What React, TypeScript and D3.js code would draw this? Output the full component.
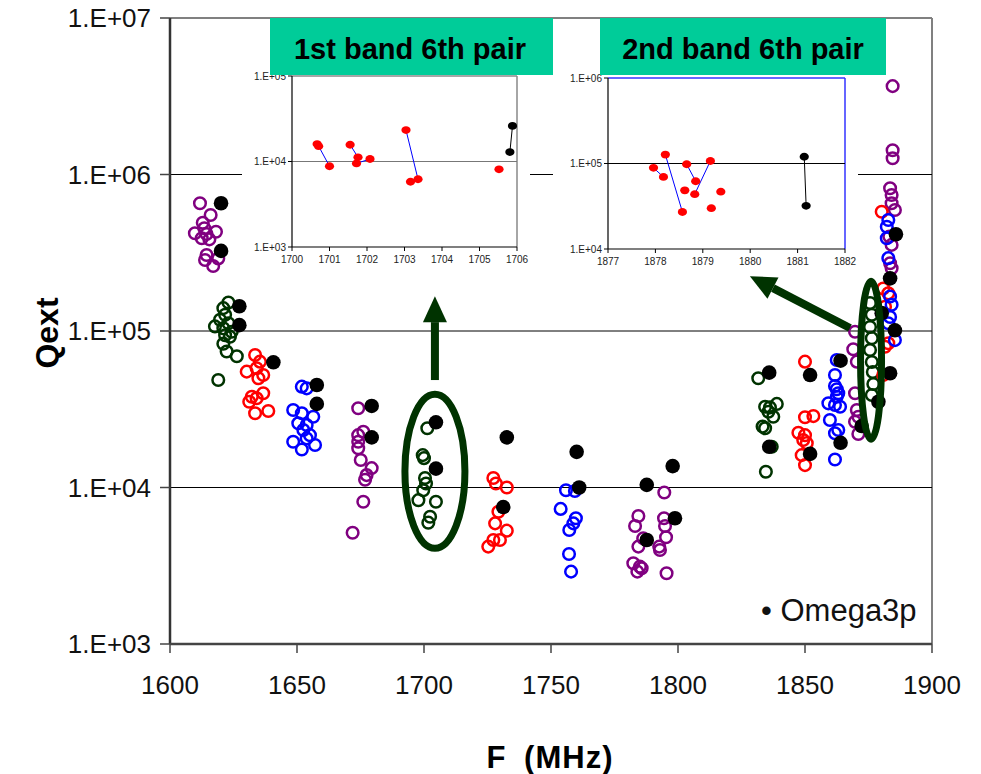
import React from 'react';
import * as d3 from 'd3';

// main chart series: [F (MHz), Qext]
const purpleQ: [number, number][] = [
  [1611.8, 6.55e5], [1616.0, 5.51e5], [1612.9, 4.92e5], [1613.5, 4.53e5], [1618.1, 4.31e5], [1609.8, 4.21e5],
  [1614.4, 4.17e5], [1612.5, 3.91e5], [1615.5, 3.85e5], [1614.4, 3.06e5], [1619.0, 2.91e5], [1613.8, 2.84e5], [1617.0, 2.6e5],
  [1674.1, 3.21e4], [1676.1, 2.27e4], [1674.1, 2.16e4], [1674.1, 1.96e4], [1674.1, 1.78e4], [1675.1, 1.5e4],
  [1679.4, 1.33e4], [1677.4, 1.2e4], [1676.8, 1.12e4], [1676.1, 8.1e3], [1671.9, 5.14e3],
  [1794.6, 9.3e3], [1784.4, 6.58e3], [1783.1, 5.67e3], [1794.5, 6.36e3], [1794.9, 5.67e3], [1786.3, 4.73e3],
  [1784.4, 4.19e3], [1795.3, 4.81e3], [1792.6, 4.19e3], [1792.9, 3.99e3], [1782.4, 3.28e3], [1785.0, 3.12e3],
  [1785.7, 3.05e3], [1784.0, 2.9e3], [1795.5, 2.83e3],
  [1869.7, 9.9e4], [1869.0, 7.64e4], [1870.4, 6.37e4], [1869.7, 4.0e4], [1870.4, 3.13e4], [1871.0, 2.83e4],
  [1869.7, 2.63e4], [1871.0, 2.2e4],
  [1884.5, 3.67e6], [1884.5, 1.43e6], [1884.5, 1.27e6], [1883.5, 8.17e5], [1884.1, 7.4e5], [1884.1, 6.55e5],
  [1885.4, 5.93e5], [1883.2, 4.01e5], [1884.1, 3.55e5], [1883.5, 2.71e5], [1884.1, 2.52e5],
];

const greenQ: [number, number][] = [
  [1623.0, 1.52e5], [1621.0, 1.4e5], [1621.7, 1.27e5], [1619.7, 1.18e5], [1623.0, 1.12e5], [1617.7, 1.07e5],
  [1621.0, 1.04e5], [1624.3, 9.9e4], [1621.7, 9.4e4], [1623.6, 9.2e4], [1621.0, 8.3e4], [1622.3, 7.4e4],
  [1626.3, 6.9e4], [1619.0, 4.86e4],
  [1701.3, 2.39e4], [1699.5, 1.61e4], [1700.0, 1.54e4], [1700.4, 1.15e4], [1700.8, 1.06e4], [1699.7, 9.6e3],
  [1697.8, 8.3e3], [1704.7, 8.1e3], [1702.4, 6.5e3], [1701.7, 5.96e3],
  [1831.6, 4.99e4], [1834.3, 3.28e4], [1836.2, 3.25e4], [1838.9, 3.42e4], [1835.6, 3.05e4], [1837.5, 2.83e4],
  [1833.3, 2.45e4], [1834.3, 2.39e4], [1836.9, 1.82e4], [1834.6, 1.26e4],
  [1875.6, 1.51e5], [1876.3, 1.27e5], [1875.6, 1.06e5], [1876.3, 9.0e4], [1875.6, 7.56e4], [1876.3, 6.34e4],
  [1876.7, 5.47e4], [1876.9, 4.58e4], [1876.3, 3.9e4],
];

const redQ: [number, number][] = [
  [1633.5, 7.03e4], [1635.4, 6.37e4], [1630.2, 5.5e4], [1634.1, 5.78e4], [1636.7, 5.23e4], [1634.8, 4.99e4],
  [1632.2, 3.8e4], [1636.7, 4.0e4], [1634.1, 3.72e4], [1631.2, 3.53e4], [1633.5, 2.98e4], [1638.7, 3.08e4],
  [1727.3, 1.15e4], [1728.3, 1.06e4], [1732.6, 1.0e4], [1729.3, 7.0e3], [1728.0, 5.9e3], [1732.6, 5.3e3],
  [1727.3, 4.62e3], [1729.9, 4.62e3], [1725.3, 4.19e3],
  [1850.0, 6.37e4], [1850.0, 2.81e4], [1853.3, 2.86e4], [1847.4, 2.24e4], [1850.0, 2.16e4], [1849.3, 2.01e4],
  [1850.7, 1.92e4], [1848.7, 1.61e4], [1850.0, 1.39e4],
  [1880.2, 5.78e5], [1880.8, 1.87e5], [1882.8, 1.74e5], [1881.5, 1.43e5], [1882.8, 8.35e4], [1881.5, 7.94e4],
  [1880.8, 5.23e4],
];

const blueQ: [number, number][] = [
  [1651.9, 4.41e4], [1653.8, 4.3e4], [1648.5, 3.13e4], [1651.9, 2.98e4], [1656.4, 2.83e4], [1650.5, 2.57e4],
  [1653.8, 2.51e4], [1652.5, 2.33e4], [1655.1, 2.16e4], [1648.5, 1.96e4], [1653.8, 2.06e4], [1657.1, 1.87e4],
  [1651.9, 1.75e4],
  [1755.9, 9.6e3], [1759.4, 9.5e3], [1753.8, 7.3e3], [1759.8, 6.36e3], [1758.8, 5.9e3], [1757.2, 5.35e3],
  [1757.1, 3.76e3], [1757.9, 2.9e3],
  [1862.5, 6.53e4], [1861.8, 5.23e4], [1861.8, 4.45e4], [1862.5, 4.24e4], [1863.1, 4.0e4], [1862.5, 3.8e4],
  [1859.2, 3.45e4], [1861.8, 3.37e4], [1863.8, 3.28e4], [1859.8, 2.7e4], [1863.1, 2.33e4], [1861.8, 2.22e4],
  [1861.8, 1.51e4],
  [1882.8, 5.12e5], [1882.2, 4.64e5], [1882.2, 3.91e5], [1882.8, 2.92e5], [1883.5, 1.66e5], [1884.1, 1.47e5],
  [1883.5, 1.23e5], [1882.8, 1.12e5], [1885.4, 8.75e4],
];

const omega3p: [number, number][] = [
  [1620.1, 6.55e5], [1620.1, 3.25e5], [1627.3, 1.44e5], [1627.3, 1.09e5], [1640.7, 6.31e4], [1657.8, 4.52e4],
  [1657.8, 3.42e4], [1679.4, 3.32e4], [1679.4, 2.09e4], [1704.7, 2.61e4], [1704.7, 1.32e4], [1732.6, 2.09e4],
  [1731.2, 7.5e3], [1760.1, 1.69e4], [1761.1, 1.0e4], [1787.7, 1.04e4], [1787.7, 4.62e3], [1797.9, 1.37e4],
  [1798.8, 6.36e3], [1835.9, 5.42e4], [1835.9, 1.82e4], [1852.0, 5.23e4], [1852.0, 1.64e4], [1864.0, 6.46e4],
  [1864.0, 1.93e4], [1872.3, 2.47e4], [1880.2, 1.3e5], [1878.9, 3.53e4], [1885.8, 4.15e5], [1883.5, 2.17e5],
  [1885.4, 1.01e5], [1883.5, 5.37e4],
];

// inset 1: 1st band 6th pair
const band1Red: [number, number][] = [
  [1700.67, 1.6e4], [1700.71, 1.51e4], [1701.0, 8.8e3], [1701.55, 1.57e4], [1701.76, 1.12e4], [1701.72, 9.5e3],
  [1702.08, 1.07e4], [1703.04, 2.33e4], [1703.16, 5.8e3], [1703.36, 6.2e3], [1705.52, 8.1e3],
];
const band1Links: [number, number][] = [[1, 2], [3, 4], [5, 6], [7, 9]];
const band1Black: [number, number][] = [[1705.81, 1.29e4], [1705.88, 2.61e4]];

// inset 2: 2nd band 6th pair
const band2Red: [number, number][] = [
  [1877.96, 8.9e4], [1878.17, 6.96e4], [1878.21, 1.27e5], [1878.57, 2.71e4], [1878.66, 9.8e4], [1878.85, 6.2e4],
  [1878.62, 4.85e4], [1878.83, 4.38e4], [1879.16, 1.07e5], [1879.18, 3.0e4], [1879.38, 4.68e4],
];
const band2Links: [number, number][] = [[0, 1], [2, 3], [4, 5], [7, 8]];
const band2Black: [number, number][] = [[1881.14, 1.2e5], [1881.18, 3.2e4]];

const xTicks = [1600, 1650, 1700, 1750, 1800, 1850, 1900];
const yTicks = [1e3, 1e4, 1e5, 1e6, 1e7];
const in1XTicks = [1700, 1701, 1702, 1703, 1704, 1705, 1706];
const in1YTicks = [1e3, 1e4, 1e5];
const in2XTicks = [1877, 1878, 1879, 1880, 1881, 1882];
const in2YTicks = [1e4, 1e5, 1e6];

const FONT = "'Liberation Sans', Arial, sans-serif";
const DKGREEN = '#003300';
const fmtE = (v: number) => '1.E+' + String(Math.round(Math.log10(v))).padStart(2, '0');

export default function App() {
  const x = d3.scaleLinear().domain([1600, 1900]).range([170, 932]);
  const y = d3.scaleLog().domain([1e3, 1e7]).range([644, 18]);

  const i1x = d3.scaleLinear().domain([1700, 1706]).range([292, 517]);
  const i1y = d3.scaleLog().domain([1e3, 1e5]).range([247, 76]);
  const i2x = d3.scaleLinear().domain([1877, 1882]).range([608, 845]);
  const i2y = d3.scaleLog().domain([1e4, 1e6]).range([249, 78]);

  const openSeries = [
    { data: purpleQ, color: '#800080' },
    { data: greenQ, color: DKGREEN },
    { data: redQ, color: '#ff0000' },
    { data: blueQ, color: '#0000ff' },
  ];

  const arrow = (from: [number, number], to: [number, number], key: string) => {
    const x0 = x(from[0]), y0 = y(from[1]), x1 = x(to[0]), y1 = y(to[1]);
    const ang = Math.atan2(y1 - y0, x1 - x0);
    const headL = 26, headW = 12, shaftW = 4;
    const bx = x1 - headL * Math.cos(ang), by = y1 - headL * Math.sin(ang);
    const nx = -Math.sin(ang), ny = Math.cos(ang);
    return (
      <g key={key}>
        <line x1={x0} y1={y0} x2={bx} y2={by} stroke={DKGREEN} strokeWidth={shaftW * 2} />
        <path d={`M${x1},${y1}L${bx + nx * headW},${by + ny * headW}L${bx - nx * headW},${by - ny * headW}Z`} fill={DKGREEN} />
      </g>
    );
  };

  const inset = (
    sx: d3.ScaleLinear<number, number>, sy: d3.ScaleLogarithmic<number, number>,
    xt: number[], yt: number[], red: [number, number][], links: [number, number][], black: [number, number][],
    frameColor: string, gridColor: string, key: string
  ) => {
    const [l, r] = sx.range();
    const [b, t] = sy.range();
    return (
      <g key={key} fontFamily={FONT}>
        <line x1={l} x2={r} y1={t} y2={t} stroke={frameColor} strokeWidth={1.5} />
        <line x1={r} x2={r} y1={t} y2={b} stroke={frameColor} strokeWidth={1.5} />
        <line x1={l} x2={r} y1={sy(yt[1])} y2={sy(yt[1])} stroke={gridColor} strokeWidth={1.2} />
        <line x1={l} x2={l} y1={t} y2={b} stroke="#000" strokeWidth={1.2} />
        <line x1={l} x2={r} y1={b} y2={b} stroke="#000" strokeWidth={1.2} />
        {yt.map(v => (
          <g key={'y' + v}>
            <line x1={l - 4} x2={l} y1={sy(v)} y2={sy(v)} stroke="#000" />
            <text x={l - 6} y={sy(v) + 3.5} fontSize={10} textAnchor="end" fill="#222">{fmtE(v)}</text>
          </g>
        ))}
        {xt.map(v => (
          <g key={'x' + v}>
            <line x1={sx(v)} x2={sx(v)} y1={b} y2={b + 4} stroke="#000" />
            <text x={sx(v)} y={b + 16} fontSize={10} textAnchor="middle" fill="#222">{v}</text>
          </g>
        ))}
        {links.map(([a, c], i) => (
          <line key={'l' + i} x1={sx(red[a][0])} y1={sy(red[a][1])} x2={sx(red[c][0])} y2={sy(red[c][1])} stroke="#0000ff" strokeWidth={1} />
        ))}
        <line x1={sx(black[0][0])} y1={sy(black[0][1])} x2={sx(black[1][0])} y2={sy(black[1][1])} stroke="#000" strokeWidth={1} />
        {red.map((d, i) => (
          <ellipse key={'r' + i} cx={sx(d[0])} cy={sy(d[1])} rx={4.6} ry={3.9} fill="#ff0000" />
        ))}
        {black.map((d, i) => (
          <ellipse key={'b' + i} cx={sx(d[0])} cy={sy(d[1])} rx={4.6} ry={3.9} fill="#000" />
        ))}
      </g>
    );
  };

  return (
    <svg width={981} height={774} style={{ position: 'absolute', left: 0, top: 0, background: '#fff' }}>
      <rect width={981} height={774} fill="#fff" />
      {/* frame and grid */}
      <line x1={170} x2={932} y1={18} y2={18} stroke="#808080" strokeWidth={2} />
      <line x1={932} x2={932} y1={18} y2={644} stroke="#808080" strokeWidth={2} />
      {yTicks.slice(1, -1).map(v => (
        <line key={'g' + v} x1={170} x2={932} y1={y(v)} y2={y(v)} stroke="#000" strokeWidth={1} />
      ))}
      <line x1={170} x2={170} y1={18} y2={644} stroke="#333" strokeWidth={2.5} />
      <line x1={170} x2={932} y1={644} y2={644} stroke="#444" strokeWidth={2.5} />
      {yTicks.map(v => (
        <g key={'yt' + v}>
          <line x1={160} x2={170} y1={y(v)} y2={y(v)} stroke="#444" strokeWidth={1.5} />
          <text x={151} y={y(v) + 9} fontSize={26} fontFamily={FONT} textAnchor="end" fill="#111">{fmtE(v)}</text>
        </g>
      ))}
      {xTicks.map(v => (
        <g key={'xt' + v}>
          <line x1={x(v)} x2={x(v)} y1={644} y2={653} stroke="#444" strokeWidth={1.5} />
          <text x={x(v)} y={694} fontSize={26} fontFamily={FONT} textAnchor="middle" fill="#111">{v}</text>
        </g>
      ))}
      <text transform="translate(58,333) rotate(-90)" fontSize={32} fontWeight="bold" fontFamily={FONT} textAnchor="middle">Qext</text>
      <text x={550} y={768} fontSize={31} fontWeight="bold" fontFamily={FONT} textAnchor="middle" wordSpacing={8} letterSpacing={1}>F (MHz)</text>

      {/* insets */}
      <rect x={242} y={60} width={288} height={212} fill="#fff" />
      <rect x={553} y={60} width={305} height={212} fill="#fff" />
      {inset(i1x, i1y, in1XTicks, in1YTicks, band1Red, band1Links, band1Black, '#888', '#777', 'in1')}
      {inset(i2x, i2y, in2XTicks, in2YTicks, band2Red, band2Links, band2Black, '#3333ff', '#000', 'in2')}
      <rect x={270} y={18} width={283} height={57} fill="#00cc99" />
      <rect x={600} y={18} width={286} height={57} fill="#00cc99" />
      <text x={410} y={59} fontSize={29} fontWeight="bold" fontFamily={FONT} textAnchor="middle">1st band 6th pair</text>
      <text x={743} y={59} fontSize={29} fontWeight="bold" fontFamily={FONT} textAnchor="middle">2nd band 6th pair</text>

      {/* data */}
      {openSeries.map((s, si) => (
        <g key={'s' + si}>
          {s.data.map((d, i) => (
            <circle key={i} cx={x(d[0])} cy={y(d[1])} r={5.8} fill="none" stroke={s.color} strokeWidth={2.5} />
          ))}
        </g>
      ))}
      {omega3p.map((d, i) => (
        <circle key={'o' + i} cx={x(d[0])} cy={y(d[1])} r={7.3} fill="#000" />
      ))}

      {/* annotations */}
      <ellipse cx={x(1704.3)} cy={y(1.27e4)} rx={30} ry={77} fill="none" stroke={DKGREEN} strokeWidth={7} />
      <ellipse cx={x(1876.0)} cy={y(6.5e4)} rx={10.5} ry={79} fill="none" stroke={DKGREEN} strokeWidth={7} />
      {arrow([1704.3, 4.86e4], [1704.3, 1.67e5], 'a1')}
      {arrow([1867.7, 1.045e5], [1828.3, 2.24e5], 'a2')}

      <text x={761} y={621} fontSize={31} fontFamily={FONT} fill="#111">• Omega3p</text>
    </svg>
  );
}
